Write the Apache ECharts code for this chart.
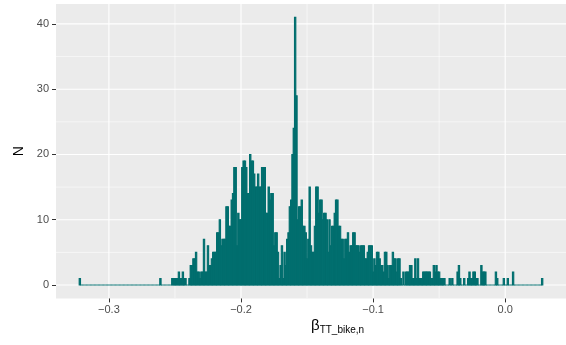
<!DOCTYPE html>
<html><head><meta charset="utf-8">
<script src="https://cdn.jsdelivr.net/npm/echarts@6/dist/echarts.min.js"></script>
<style>html,body{margin:0;padding:0;background:#fff}#c{width:566px;height:345px}</style>
</head><body><div id="c"></div>
<script>
const binWidth = 0.001;
const firstBinCenter = -0.322;
const counts = [
1,0,0,0,0,0,0,0,0,0,
0,0,0,0,0,0,0,0,0,0,
0,0,0,0,0,0,0,0,0,0,
0,0,0,0,0,0,0,0,0,0,
0,0,0,0,0,0,0,0,0,0,
0,0,0,0,0,0,0,0,0,0,
0,1,0,0,0,0,0,0,0,0,
1,1,1,1,1,2,1,1,2,1,
1,0,0,1,3,3,4,4,5,2,
2,1,2,2,7,2,2,6,3,3,
4,5,5,5,8,8,10,6,7,7,
7,12,12,9,9,13,14,18,18,6,
11,10,10,18,19,19,18,14,14,20,
19,19,17,15,15,17,15,15,18,18,
18,11,11,15,13,14,14,6,8,8,
5,1,3,6,1,5,3,7,8,12,
13,20,24,41,29,10,12,12,13,9,
9,8,4,7,15,6,5,5,9,15,
15,11,13,13,10,11,11,10,5,10,
6,9,9,11,13,13,9,9,7,7,
4,7,7,8,5,6,6,8,8,6,
6,6,5,6,6,6,4,4,5,6,
6,6,2,4,3,5,5,4,3,3,
2,5,5,3,1,3,3,5,4,4,
2,4,4,1,0,2,0,2,2,2,
3,3,1,1,4,1,4,1,1,1,
2,2,2,2,2,2,1,1,3,2,
3,2,2,1,1,1,1,0,0,0,
1,0,1,0,0,0,2,3,1,0,
0,1,0,0,1,2,1,1,2,2,
1,1,0,0,3,2,2,2,0,0,
0,0,0,0,0,2,1,0,0,0,
0,1,0,0,1,0,0,0,2,0,
0,0,0,0,0,0,0,0,0,0,
0,0,0,0,0,0,0,0,0,0,
1
];
const xTicks = [-0.3, -0.2, -0.1, 0.0];
const xMinor = [-0.25, -0.15, -0.05];
const yTicks = [0, 10, 20, 30, 40];
const yMinor = [5, 15, 25, 35];
const xTitleMain = 'β';
const xTitleSub = 'TT_bike,n';
const yTitle = 'N';

const barColor = '#006e6e';
const data = counts.map((n, i) => [+(firstBinCenter + i * binWidth).toFixed(4), n]);
const xLo = firstBinCenter - binWidth / 2;
const xHi = firstBinCenter + (counts.length - 0.5) * binWidth;
const xPad = (xHi - xLo) * 0.05;
const yTop = Math.max(...counts);
const yPad = yTop * 0.05;
const xMin = xLo - xPad, xMax = xHi + xPad, yMin = -yPad, yMax = yTop + yPad;

const gridData = [];
xMinor.forEach(v => gridData.push([v, 0, 0]));
yMinor.forEach(v => gridData.push([v, 1, 0]));
xTicks.forEach(v => gridData.push([v, 0, 1]));
yTicks.forEach(v => gridData.push([v, 1, 1]));

const fmt = v => (v < 0 ? '\u2212' : '') + Math.abs(v).toFixed(1);

const chart = echarts.init(document.getElementById('c'), null, {renderer: 'canvas'});
chart.setOption({
  animation: false,
  backgroundColor: '#ffffff',
  grid: {left: 56, top: 4, width: 510.4, height: 294.4, show: true, backgroundColor: '#EBEBEB', borderWidth: 0},
  xAxis: {
    type: 'value', min: xMin, max: xMax,
    splitLine: {show: false}, axisLine: {show: false, onZero: false},
    axisTick: {show: true, customValues: xTicks, length: 4, lineStyle: {color: '#333333', width: 1}},
    axisLabel: {customValues: xTicks, formatter: fmt, color: '#4D4D4D', fontSize: 11, margin: 6, fontFamily: 'Liberation Sans'}
  },
  yAxis: {
    type: 'value', min: yMin, max: yMax,
    splitLine: {show: false}, axisLine: {show: false, onZero: false},
    axisTick: {show: true, customValues: yTicks, length: 4, lineStyle: {color: '#333333', width: 1}},
    axisLabel: {customValues: yTicks, color: '#4D4D4D', fontSize: 11, margin: 7, fontFamily: 'Liberation Sans'},
    name: yTitle, nameLocation: 'middle', nameGap: 25, nameRotate: 90,
    nameTextStyle: {color: '#000', fontSize: 14, fontFamily: 'Liberation Sans'}
  },
  graphic: [{
    type: 'text', left: 311, top: 318,
    style: {
      text: '{b|' + xTitleMain + '}{s|' + xTitleSub + '}',
      rich: {
        b: {fontSize: 15, fontFamily: 'Liberation Sans', fill: '#000', lineHeight: 20, verticalAlign: 'middle'},
        s: {fontSize: 10, fontFamily: 'Liberation Sans', fill: '#000', lineHeight: 20, verticalAlign: 'bottom'}
      }
    }
  }],
  series: [
    {
      type: 'custom', z: 1, silent: true, data: gridData, clip: true,
      renderItem: (params, api) => {
        const v = api.value(0), isY = api.value(1), major = api.value(2);
        const a = isY ? api.coord([xMin, v]) : api.coord([v, yMin]);
        const b = isY ? api.coord([xMax, v]) : api.coord([v, yMax]);
        return {type: 'line', shape: {x1: a[0], y1: a[1], x2: b[0], y2: b[1]},
          style: {stroke: '#ffffff', lineWidth: major ? 1.1 : 0.55}};
      }
    },
    {
      type: 'custom', z: 2, silent: true, data: data, clip: true,
      renderItem: (params, api) => {
        const c = api.value(0), n = api.value(1);
        const p0 = api.coord([c - binWidth / 2, n]);
        const p1 = api.coord([c + binWidth / 2, 0]);
        return {type: 'rect', shape: {x: p0[0], y: p0[1], width: p1[0] - p0[0], height: p1[1] - p0[1]},
          style: {fill: barColor, stroke: barColor, lineWidth: 1.1}};
      }
    }
  ]
});
</script>
</body></html>
